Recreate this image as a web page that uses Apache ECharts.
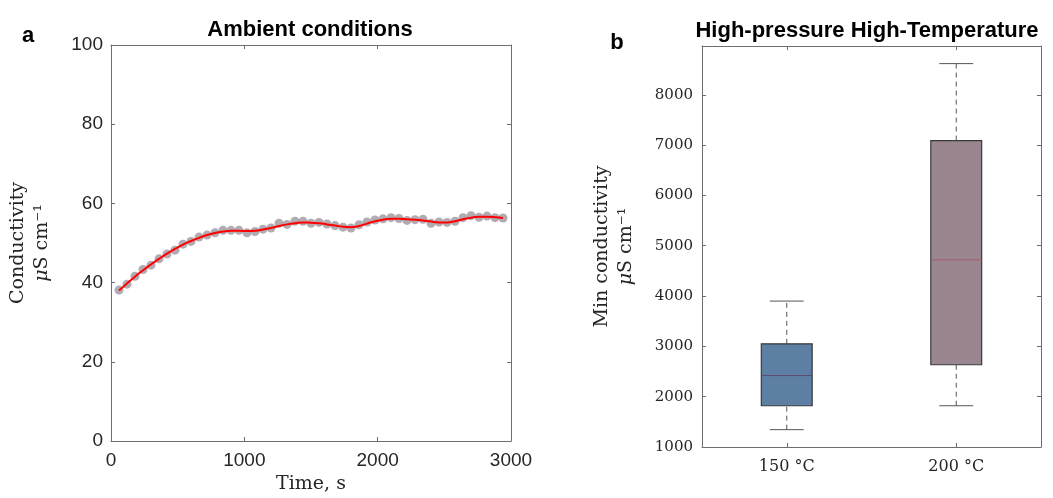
<!DOCTYPE html>
<html>
<head>
<meta charset="utf-8">
<script src="https://cdn.jsdelivr.net/npm/echarts@6/dist/echarts.min.js"></script>
<style>
  html, body { margin: 0; padding: 0; background: #fff; }
  #chart { width: 1053px; height: 498px; }
</style>
</head>
<body>
<div id="chart"></div>
<script>
// panel a: conductivity vs time (measured points and smooth fit)
var timeSec = [60, 120, 180, 240, 300, 360, 420, 480, 540, 600, 660, 720, 780, 840, 900, 960, 1020,
	1080, 1140, 1200, 1260, 1320, 1380, 1440, 1500, 1560, 1620, 1680, 1740, 1800, 1860, 1920, 1980,
	2040, 2100, 2160, 2220, 2280, 2340, 2400, 2460, 2520, 2580, 2640, 2700, 2760, 2820, 2880, 2940];
var conductivity = [38.1, 39.6, 41.6, 43.3, 44.4, 46.0, 47.2, 48.2, 49.7, 50.4, 51.5, 52.0, 52.6, 53.2, 53.2, 53.2, 52.6,
	52.9, 53.5, 53.8, 55.0, 54.7, 55.5, 55.5, 55.0, 55.2, 54.8, 54.4, 54.0, 53.8, 54.6, 55.3, 55.8,
	56.1, 56.4, 56.2, 55.7, 55.9, 56.0, 55.0, 55.3, 55.2, 55.5, 56.4, 56.9, 56.5, 56.8, 56.4, 56.3];
var fitValue = [38.0, 39.8, 41.5, 43.1, 44.6, 46.0, 47.3, 48.5, 49.6, 50.5, 51.3, 52.0, 52.5, 52.9, 53.1, 53.1, 53.0,
	53.1, 53.4, 53.8, 54.3, 54.7, 55.0, 55.2, 55.1, 55.0, 54.7, 54.4, 54.1, 54.0, 54.3, 54.9, 55.5,
	55.9, 56.1, 56.1, 56.0, 55.9, 55.7, 55.4, 55.2, 55.2, 55.5, 56.0, 56.4, 56.6, 56.6, 56.5, 56.3];

// panel b: box plot of min conductivity
var tempCategories = ['150 °C', '200 °C'];
var whiskerLow = [1345, 1820];
var quartile1 = [1820, 2635];
var median = [2420, 4720];
var quartile3 = [3050, 7090];
var whiskerHigh = [3900, 8620];

var boxFill = ['#5c7fa3', '#9a8690'];
var medianColor = ['#5b4a6c', '#a6566e'];

var sansFont = 'Liberation Sans';
var serifFont = 'DejaVu Serif';
var axisGray = '#6e6e6e';
var labelColor = '#262626';

var chart = echarts.init(document.getElementById('chart'));

var boxData = tempCategories.map((c, i) => [i, whiskerLow[i], quartile1[i], median[i], quartile3[i], whiskerHigh[i]]);

function renderBox(params, api) {
	var idx = api.value(0);
	var band = api.size([1, 0])[0];
	var boxW = band * 0.3, capW = band * 0.2;
	var pLow = api.coord([idx, api.value(1)]);
	var pQ1 = api.coord([idx, api.value(2)]);
	var pMed = api.coord([idx, api.value(3)]);
	var pQ3 = api.coord([idx, api.value(4)]);
	var pHigh = api.coord([idx, api.value(5)]);
	var cx = pMed[0];
	var dashed = { stroke: '#555', lineWidth: 1, lineDash: [5, 4] };
	var solid = { stroke: '#555', lineWidth: 1 };
	return {
		type: 'group',
		children: [
			{ type: 'line', shape: { x1: cx, y1: pQ3[1], x2: cx, y2: pHigh[1] }, style: dashed },
			{ type: 'line', shape: { x1: cx, y1: pLow[1], x2: cx, y2: pQ1[1] }, style: dashed },
			{ type: 'line', shape: { x1: cx - capW / 2, y1: pHigh[1], x2: cx + capW / 2, y2: pHigh[1] }, style: solid },
			{ type: 'line', shape: { x1: cx - capW / 2, y1: pLow[1], x2: cx + capW / 2, y2: pLow[1] }, style: solid },
			{ type: 'rect', shape: { x: cx - boxW / 2, y: pQ3[1], width: boxW, height: pQ1[1] - pQ3[1] },
				style: { fill: boxFill[idx], stroke: '#3a3a3a', lineWidth: 1.2 } },
			{ type: 'line', shape: { x1: cx - boxW / 2, y1: pMed[1], x2: cx + boxW / 2, y2: pMed[1] },
				style: { stroke: medianColor[idx], lineWidth: 1 } }
		]
	};
}

var boxAxisLine = { show: true, lineStyle: { color: axisGray, width: 1 } };
var plainNumber = v => String(v);

chart.setOption({
	animation: false,
	graphic: [
		{ type: 'text', x: 28, y: 36, style: { text: 'a', font: 'bold 22px ' + sansFont, fill: '#000', textAlign: 'center', textVerticalAlign: 'middle' } },
		{ type: 'text', x: 617, y: 43, style: { text: 'b', font: 'bold 22px ' + sansFont, fill: '#000', textAlign: 'center', textVerticalAlign: 'middle' } },
		{ type: 'text', x: 310, y: 30, style: { text: 'Ambient conditions', font: 'bold 22px ' + sansFont, fill: '#000', textAlign: 'center', textVerticalAlign: 'middle' } },
		{ type: 'text', x: 867, y: 31, style: { text: 'High-pressure High-Temperature', font: 'bold 22px ' + sansFont, fill: '#000', textAlign: 'center', textVerticalAlign: 'middle' } }
	],
	grid: [
		{ left: 111, top: 45, width: 400, height: 396, outerBoundsMode: 'none', containLabel: false },
		{ left: 702, top: 46, width: 339, height: 401, outerBoundsMode: 'none', containLabel: false }
	],
	xAxis: [
		{
			type: 'value', gridIndex: 0, min: 0, max: 3000, interval: 1000,
			name: 'Time, s', nameLocation: 'middle', nameGap: 34,
			nameTextStyle: { fontFamily: serifFont, fontSize: 19, color: labelColor },
			axisLine: { show: true, onZero: false, lineStyle: { color: axisGray } },
			axisTick: { show: true, inside: true, length: 4, lineStyle: { color: axisGray } },
			axisLabel: { fontFamily: sansFont, fontSize: 19, color: labelColor, margin: 10, formatter: plainNumber },
			splitLine: { show: false }
		},
		{
			type: 'value', gridIndex: 0, position: 'top', min: 0, max: 3000, interval: 1000,
			axisLine: { show: true, onZero: false, lineStyle: { color: axisGray } },
			axisTick: { show: true, inside: true, length: 4, lineStyle: { color: axisGray } },
			axisLabel: { show: false }, splitLine: { show: false }
		},
		{
			type: 'category', gridIndex: 1, data: tempCategories,
			axisLine: boxAxisLine,
			axisTick: { show: true, inside: true, length: 4, alignWithLabel: true, lineStyle: { color: axisGray } },
			axisLabel: { fontFamily: serifFont, fontSize: 16, color: labelColor, margin: 12 },
			splitLine: { show: false }
		},
		{
			type: 'category', gridIndex: 1, position: 'top', data: tempCategories,
			axisLine: boxAxisLine,
			axisTick: { show: true, inside: true, length: 4, alignWithLabel: true, lineStyle: { color: axisGray } },
			axisLabel: { show: false }, splitLine: { show: false }
		}
	],
	yAxis: [
		{
			type: 'value', gridIndex: 0, min: 0, max: 100, interval: 20,
			name: 'Conductivity\n{it|μ}S cm⁻¹', nameLocation: 'middle', nameGap: 57, nameRotate: 90,
			nameTextStyle: { fontFamily: serifFont, fontSize: 19, color: labelColor, lineHeight: 24,
				rich: { it: { fontFamily: serifFont, fontSize: 19, fontStyle: 'italic', color: labelColor } } },
			axisLine: { show: true, onZero: false, lineStyle: { color: axisGray } },
			axisTick: { show: true, inside: true, length: 4, lineStyle: { color: axisGray } },
			axisLabel: { fontFamily: sansFont, fontSize: 19, color: labelColor, margin: 8 },
			splitLine: { show: false }
		},
		{
			type: 'value', gridIndex: 0, position: 'right', min: 0, max: 100, interval: 20,
			axisLine: { show: true, onZero: false, lineStyle: { color: axisGray } },
			axisTick: { show: true, inside: true, length: 4, lineStyle: { color: axisGray } },
			axisLabel: { show: false }, splitLine: { show: false }
		},
		{
			type: 'value', gridIndex: 1, min: 1000, max: 8970, interval: 1000,
			name: 'Min conductivity\n{it|μ}S cm⁻¹', nameLocation: 'middle', nameGap: 64, nameRotate: 90,
			nameTextStyle: { fontFamily: serifFont, fontSize: 19, color: labelColor, lineHeight: 24,
				rich: { it: { fontFamily: serifFont, fontSize: 19, fontStyle: 'italic', color: labelColor } } },
			axisLine: { show: true, onZero: false, lineStyle: { color: axisGray } },
			axisTick: { show: true, inside: true, length: 4, lineStyle: { color: axisGray } },
			axisLabel: { fontFamily: serifFont, fontSize: 15, color: labelColor, margin: 9, showMaxLabel: false, formatter: plainNumber },
			splitLine: { show: false }
		},
		{
			type: 'value', gridIndex: 1, position: 'right', min: 1000, max: 8970, interval: 1000,
			axisLine: { show: true, onZero: false, lineStyle: { color: axisGray } },
			axisTick: { show: true, inside: true, length: 4, lineStyle: { color: axisGray } },
			axisLabel: { show: false }, splitLine: { show: false }
		}
	],
	series: [
		{
			type: 'scatter', xAxisIndex: 0, yAxisIndex: 0,
			symbolSize: 9,
			itemStyle: { color: '#a69ca4', opacity: 0.85 },
			data: timeSec.map((t, i) => [t, conductivity[i]])
		},
		{
			type: 'line', xAxisIndex: 0, yAxisIndex: 0,
			smooth: true, symbol: 'none',
			lineStyle: { color: '#ff0000', width: 2 },
			data: timeSec.map((t, i) => [t, fitValue[i]])
		},
		{
			type: 'custom', xAxisIndex: 2, yAxisIndex: 2,
			renderItem: renderBox,
			encode: { x: 0, y: [1, 2, 3, 4, 5] },
			data: boxData
		}
	]
});
</script>
</body>
</html>
